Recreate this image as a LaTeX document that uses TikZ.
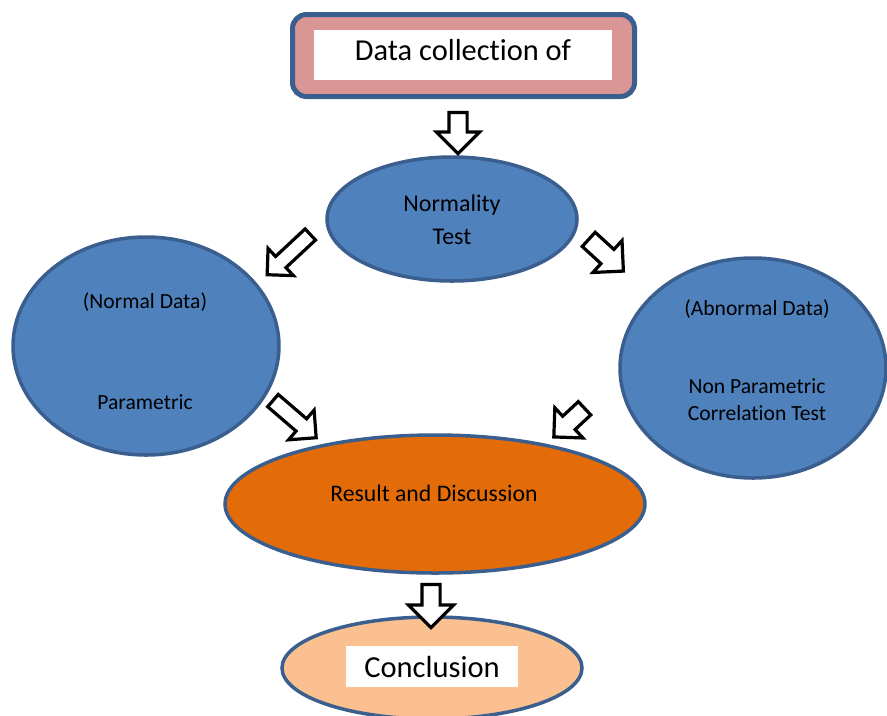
\documentclass[tikz,border=0pt]{standalone}
\usepackage{fontspec}
\setmainfont{Carlito}[Ligatures=NoCommon]
\usetikzlibrary{shapes.geometric,shapes.arrows}
\newcommand\p[1]{#1*0.75pt}
\definecolor{bord}{HTML}{3A5F8E}
\definecolor{pinkf}{HTML}{D99694}
\definecolor{bluef}{HTML}{4F81BD}
\definecolor{orangef}{HTML}{E36C09}
\definecolor{peachf}{HTML}{FAC090}
\tikzset{
  oval/.style={ellipse,draw=bord,line width=\p{3.5},inner sep=0pt},
  blockarrow/.style n args={3}{single arrow,draw=black,fill=white,line width=\p{3.2},
     inner xsep=0pt,inner ysep=\p{#2/2},minimum height=\p{#1},
     single arrow head extend=\p{(#3-#2)/2},single arrow head indent=0pt},
  lbl/.style={inner sep=0pt,font=\fontsize{18pt}{24.75pt}\selectfont,align=center},
  slbl/.style={inner sep=0pt,font=\fontsize{16.2pt}{20.25pt}\selectfont,align=center},
}
\begin{document}
\begin{tikzpicture}[x=0.75pt,y=-0.75pt]
\useasboundingbox (0,0) rectangle (887,715);
% top box
\node[draw=bord,fill=pinkf,line width=\p{5},rounded corners=\p{14},minimum width=\p{342},minimum height=\p{82},inner sep=0pt] (top) at (463.5,55.5) {};
\node[fill=white,minimum width=\p{298},minimum height=\p{50},inner sep=0pt] (topin) at (463,55) {};
\node[inner sep=0pt,font=\fontsize{22.8pt}{27pt}\selectfont,anchor=base] (toptxt) at (463,60) {Data collection of};
% normality
\node[oval,fill=bluef,minimum width=\p{250},minimum height=\p{124}] (norm) at (452,219) {};
\node[lbl] (normtxt) at (452,220) {Normality\\Test};
% left / right
\node[oval,fill=bluef,minimum width=\p{266},minimum height=\p{218}] (left) at (146,346) {};
\node[slbl] (ltxt1) at (145,302) {(Normal Data)};
\node[slbl] (ltxt2) at (145,402) {Parametric};
\node[oval,fill=bluef,minimum width=\p{266},minimum height=\p{220}] (right) at (753,368) {};
\node[slbl] (rtxt1) at (757,309) {(Abnormal Data)};
\node[slbl] (rtxt2) at (757,400) {Non Parametric\\Correlation Test};
% result
\node[oval,fill=orangef,minimum width=\p{420},minimum height=\p{138}] (res) at (435,504) {};
\node[inner sep=0pt,font=\fontsize{17.8pt}{20pt}\selectfont] (restxt) at (434,493) {Result and Discussion};
% conclusion
\node[oval,fill=peachf,minimum width=\p{300},minimum height=\p{102}] (conc) at (432,668) {};
\node[fill=white,minimum width=\p{172},minimum height=\p{41},inner sep=0pt] (concin) at (432,666.5) {};
\node[inner sep=0pt,font=\fontsize{22.9pt}{27pt}\selectfont] (conctxt) at (432,666.5) {Conclusion};
% block arrows
\node[blockarrow={41}{15}{40},rotate=-90] (a1) at (458,128.5) {};
\node[blockarrow={59}{12}{34},rotate=223] (a2) at (291.5,252) {};
\node[blockarrow={47}{16}{40},rotate=-42.4] (a3) at (602.5,252) {};
\node[blockarrow={57}{13}{36},rotate=-40.7] (a4) at (291.5,416.5) {};
\node[blockarrow={42}{15}{38},rotate=223] (a5) at (572.5,419.5) {};
\node[blockarrow={43}{15}{42},rotate=-90] (a6) at (431,601.5) {};
\end{tikzpicture}
\end{document}
